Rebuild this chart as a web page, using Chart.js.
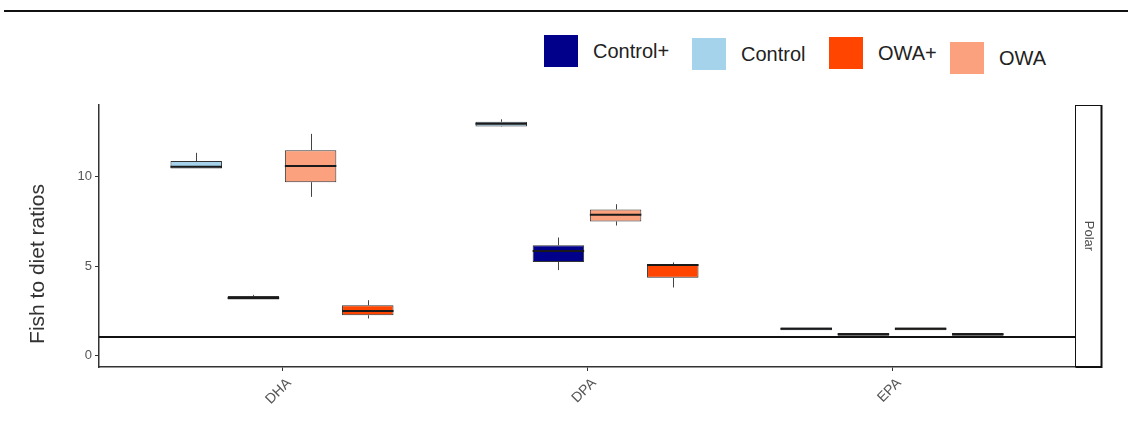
<!DOCTYPE html>
<html>
<head>
<meta charset="utf-8">
<script src="https://cdn.jsdelivr.net/npm/chart.js@4"></script>
<style>
  body { margin: 0; background: #fff; font-family: "Liberation Sans", Arial, sans-serif; }
  #wrap { position: relative; width: 1128px; height: 436px; overflow: hidden; }
  #topline { position: absolute; left: 4px; right: 0; top: 10px; height: 2px; background: #111; }
  #legend { position: absolute; left: 544px; top: 35px; height: 44px; }
  .item { position: absolute; top: 0; display: flex; align-items: center; }
  .sw { width: 34px; height: 32px; margin-right: 15px; }
  .lab { font-size: 20px; color: #222; }
  canvas { position: absolute; left: 0; top: 0; }
</style>
</head>
<body>
<div id="wrap">
  <div id="topline"></div>
  <div id="legend"></div>
  <canvas id="c" width="1128" height="436"></canvas>
</div>
<script>
// categories on the x axis
const fattyAcids = ['DHA', 'DPA', 'EPA'];
// groups in dodge order (left to right inside each category)
const groups = ['Control', 'Control+', 'OWA', 'OWA+'];
const legendOrder = ['Control+', 'Control', 'OWA+', 'OWA'];
const groupColors = {
  'Control': '#a6d3ec',
  'Control+': '#00008b',
  'OWA': '#fca17d',
  'OWA+': '#ff4500'
};

// [min, q1, median, q3, max] for DHA, DPA, EPA
const controlStats     = [[10.46, 10.46, 10.55, 10.87, 11.33], [12.78, 12.80, 12.95, 13.06, 13.20], [1.42, 1.42, 1.50, 1.58, 1.58]];
const controlPlusStats = [[3.14, 3.14, 3.22, 3.34, 3.40], [4.78, 5.24, 5.85, 6.17, 6.60], [1.12, 1.12, 1.20, 1.27, 1.27]];
const owaStats         = [[8.87, 9.69, 10.60, 11.48, 12.39], [7.27, 7.50, 7.87, 8.17, 8.46], [1.42, 1.42, 1.50, 1.58, 1.58]];
const owaPlusStats     = [[2.08, 2.26, 2.50, 2.82, 3.10], [3.81, 4.35, 5.06, 5.11, 5.21], [1.12, 1.12, 1.20, 1.27, 1.27]];

const statsByGroup = {
  'Control': controlStats,
  'Control+': controlPlusStats,
  'OWA': owaStats,
  'OWA+': owaPlusStats
};

const yTicks = [0, 5, 10];
const refLine = 1.05;
const facetLabel = 'Polar';
const yTitle = 'Fish to diet ratios';

// html legend (the items sit a little unevenly in the original)
const legendLeft = [0, 148, 285, 406];
const legendDrop = [0, 3, 2, 7];
const legend = document.getElementById('legend');
legendOrder.forEach((g, i) => {
  const it = document.createElement('div');
  it.className = 'item';
  it.style.left = legendLeft[i] + 'px';
  it.style.top = legendDrop[i] + 'px';
  it.innerHTML = '<div class="sw" style="background:' + groupColors[g] + '"></div><span class="lab">' + g + '</span>';
  legend.appendChild(it);
});

const datasets = groups.map(g => ({
  label: g,
  data: statsByGroup[g].map((s, i) => ({ x: i + 1, y: [s[1], s[3]] })),
  stats: statsByGroup[g],
  backgroundColor: groupColors[g],
  borderColor: '#333',
  borderWidth: 1,
  borderSkipped: false
}));

// medians, whiskers, reference line, facet strip, y title
const boxExtras = {
  id: 'boxExtras',
  afterDatasetsDraw(chart) {
    const { ctx, chartArea: a, scales: { y } } = chart;
    ctx.save();
    chart.data.datasets.forEach((ds, di) => {
      chart.getDatasetMeta(di).data.forEach((bar, i) => {
        const [lo, q1, med, q3, hi] = ds.stats[i];
        const x = Math.round(bar.x) + 0.5;
        const w = bar.width;
        ctx.strokeStyle = '#444';
        ctx.lineWidth = 1;
        ctx.beginPath();
        ctx.moveTo(x, y.getPixelForValue(hi));
        ctx.lineTo(x, y.getPixelForValue(q3));
        ctx.moveTo(x, y.getPixelForValue(q1));
        ctx.lineTo(x, y.getPixelForValue(lo));
        ctx.stroke();
        const ym = y.getPixelForValue(med);
        ctx.strokeStyle = '#1a1a1a';
        ctx.lineWidth = 2;
        ctx.beginPath();
        ctx.moveTo(bar.x - w / 2, ym);
        ctx.lineTo(bar.x + w / 2, ym);
        ctx.stroke();
      });
    });

    const yr = Math.round(y.getPixelForValue(refLine));
    ctx.strokeStyle = '#111';
    ctx.lineWidth = 2;
    ctx.beginPath();
    ctx.moveTo(a.left, yr);
    ctx.lineTo(a.right, yr);
    ctx.stroke();

    // facet strip on the right
    const sx = a.right + 0.5, sw = 26;
    ctx.fillStyle = '#fff';
    ctx.fillRect(sx, a.top, sw, a.bottom - a.top);
    ctx.strokeStyle = '#111';
    ctx.lineWidth = 1;
    ctx.strokeRect(sx, a.top + 0.5, sw, a.bottom - a.top - 1);
    ctx.lineWidth = 2;
    ctx.beginPath();
    ctx.moveTo(sx + sw, a.top);
    ctx.lineTo(sx + sw, a.bottom);
    ctx.lineTo(sx, a.bottom);
    ctx.stroke();
    ctx.translate(sx + sw / 2, (a.top + a.bottom) / 2);
    ctx.rotate(Math.PI / 2);
    ctx.fillStyle = '#4d4d4d';
    ctx.font = '13px "Liberation Sans", Arial, sans-serif';
    ctx.textAlign = 'center';
    ctx.textBaseline = 'middle';
    ctx.fillText(facetLabel, 0, 0);
    ctx.restore();

    ctx.save();
    ctx.translate(a.left - 61, a.bottom - 103);
    ctx.rotate(-Math.PI / 2);
    ctx.fillStyle = '#333';
    ctx.font = '21px "Liberation Sans", Arial, sans-serif';
    ctx.textAlign = 'center';
    ctx.textBaseline = 'middle';
    ctx.fillText(yTitle, 0, 0);
    ctx.restore();
  }
};

new Chart(document.getElementById('c'), {
  type: 'bar',
  data: { datasets },
  plugins: [boxExtras],
  options: {
    responsive: false,
    animation: false,
    categoryPercentage: 0.75,
    barPercentage: 0.9,
    layout: { padding: { top: 105, right: 53, left: 0, bottom: 0 } },
    plugins: { legend: { display: false }, tooltip: { enabled: false } },
    scales: {
      x: {
        type: 'linear',
        offset: false,
        min: 0.4,
        max: 3.6,
        afterBuildTicks: s => { s.ticks = fattyAcids.map((c, i) => ({ value: i + 1 })); },
        afterFit: s => { s.height = 69; },
        ticks: {
          callback: v => fattyAcids[v - 1],
          minRotation: 45,
          maxRotation: 45,
          labelOffset: 7,
          color: '#555',
          font: { size: 14, family: '"Liberation Sans", Arial, sans-serif' },
          padding: 4
        },
        grid: { display: true, offset: false, drawOnChartArea: false, drawTicks: true, tickLength: 4, color: '#333' },
        border: { display: true, color: '#333', width: 1.5 }
      },
      y: {
        min: -0.63,
        max: 14.0,
        afterBuildTicks: s => { s.ticks = yTicks.map(v => ({ value: v })); },
        afterFit: s => { s.width = 99; },
        ticks: {
          color: '#555',
          font: { size: 13, family: '"Liberation Sans", Arial, sans-serif' },
          padding: 3
        },
        grid: { display: true, drawOnChartArea: false, drawTicks: true, tickLength: 4, color: '#333' },
        border: { display: true, color: '#333', width: 1.5 }
      }
    }
  }
});
</script>
</body>
</html>
